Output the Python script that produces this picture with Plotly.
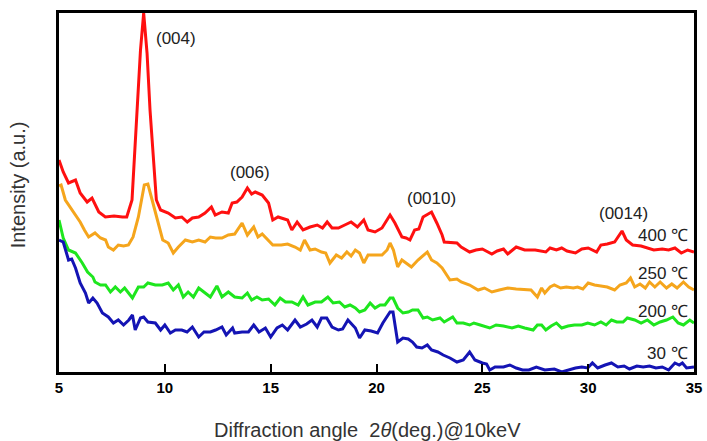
import plotly.graph_objects as go

# ---- data (angle in deg, intensity in arbitrary units) ----
red_x = [5.0,5.2,5.45,5.78,6.0,6.33,6.56,6.88,7.19,7.6,
         8.0,8.2,8.45,8.7,8.85,9.0,9.16,9.3,9.46,9.6,
         9.8,10.16,10.5,10.8,11.06,11.3,11.6,11.9,12.2,12.38,
         12.7,13.0,13.18,13.4,13.65,13.9,14.1,14.27,14.6,14.9,
         15.1,15.35,15.8,16.0,16.25,16.53,16.86,17.2,17.45,17.67,
         17.9,18.2,18.5,18.8,19.1,19.4,19.6,19.93,20.26,20.64,
         20.87,21.2,21.4,21.58,21.8,22.0,22.2,22.6,22.85,23.1,
         23.2,23.55,23.8,24.0,24.4,24.7,25.0,25.45,25.7,26.0,
         26.2,26.6,27.0,27.5,28.0,28.2,28.5,28.75,29.0,29.4,
         29.7,30.0,30.4,30.6,30.9,31.25,31.6,31.8,32.1,32.5,
         32.8,33.1,33.5,33.8,34.1,34.4,34.7,35.0]
red_y = [212,200,189,192,179,170,174,160,155,156,
         155,155,172,265,322,359,319,262,212,172,
         162,159,154,155,150,154,155,159,165,157,
         160,159,169,170,175,184,178,180,177,169,
         152,155,152,142,150,142,145,147,144,150,
         144,144,147,150,145,152,142,140,144,157,
         149,135,134,132,142,143,155,160,149,137,
         130,129,129,125,120,122,123,118,121,123,
         118,125,122,122,120,124,122,124,121,119,
         123,124,120,127,128,130,141,132,127,126,
         124,122,123,122,124,119,122,120]

orange_x = [5.0,5.1,5.3,5.55,5.78,6.0,6.2,6.4,6.7,6.96,
            7.2,7.33,7.57,7.8,8.05,8.28,8.5,8.75,9.03,9.2,
            9.4,9.65,9.9,10.16,10.4,10.64,10.97,11.3,11.6,11.9,
            12.15,12.4,12.7,13.0,13.3,13.65,13.9,14.2,14.4,14.6,
            14.9,15.1,15.5,15.8,16.15,16.4,16.6,16.86,17.1,17.4,
            17.6,17.8,18.1,18.35,18.6,18.8,19.0,19.2,19.4,19.6,
            19.93,20.26,20.5,20.64,20.8,21.0,21.2,21.4,21.65,21.96,
            22.4,22.6,22.85,23.1,23.3,23.47,23.8,24.0,24.4,24.55,
            24.8,25.1,25.45,25.8,26.2,26.6,27.0,27.3,27.6,27.8,
            27.95,28.2,28.4,28.7,28.97,29.3,29.5,29.75,30.0,30.3,
            30.6,30.9,31.25,31.5,31.8,32.0,32.2,32.45,32.7,32.9,
            33.15,33.4,33.7,33.95,34.2,34.35,34.5,34.75,35.0]
orange_y = [186,187,172,164,157,150,142,135,139,134,
            132,125,122,127,126,127,135,155,187,188,
            172,152,132,129,119,125,132,130,132,130,
            135,134,134,137,138,149,137,145,135,138,
            132,127,127,128,125,122,132,122,123,120,
            119,109,117,114,120,116,122,119,109,117,
            117,117,122,129,122,105,112,109,105,112,
            120,112,109,104,97,92,93,90,87,85,
            82,84,80,82,84,83,82,82,75,84,
            79,85,87,84,85,84,85,83,89,87,
            86,85,82,87,89,94,85,88,84,90,
            85,90,84,88,84,87,90,85,82]

green_x = [5.0,5.2,5.45,5.78,6.1,6.35,6.6,6.7,6.96,7.2,
           7.43,7.66,7.9,8.1,8.47,8.75,9.0,9.2,9.55,9.88,
           10.16,10.4,10.64,10.87,11.1,11.35,11.6,11.9,12.15,12.46,
           12.7,13.0,13.3,13.65,13.9,14.1,14.35,14.6,14.9,15.2,
           15.45,15.7,16.0,16.3,16.53,16.76,17.1,17.4,17.7,17.95,
           18.25,18.5,18.75,19.0,19.2,19.45,19.7,19.93,20.17,20.4,
           20.64,20.78,21.0,21.25,21.5,21.7,21.96,22.2,22.4,22.65,
           23.0,23.2,23.6,23.8,24.1,24.4,24.6,24.9,25.35,25.65,
           26.0,26.4,26.7,27.0,27.4,27.6,27.8,28.0,28.25,28.5,
           28.75,29.05,29.35,29.7,29.98,30.3,30.6,30.85,31.1,31.35,
           31.65,31.85,32.2,32.5,32.8,33.1,33.4,33.7,34.0,34.25,
           34.5,34.8,35.0]
green_y = [152,134,122,119,109,100,95,90,87,87,
           80,85,80,84,74,85,85,89,87,87,
           89,82,87,75,80,75,84,79,75,86,
           75,80,75,74,79,72,75,72,73,67,
           74,70,70,67,75,67,70,70,75,69,
           70,65,67,64,60,62,69,64,67,67,
           74,74,64,59,60,62,62,54,55,52,
           54,50,55,49,49,47,49,47,44,47,
           46,44,46,44,42,47,47,42,46,49,
           44,46,47,47,49,47,50,47,52,50,
           50,54,52,49,52,47,50,52,55,49,
           47,52,49]

blue_x = [5.0,5.2,5.45,5.6,5.78,6.0,6.25,6.4,6.6,6.8,
          7.05,7.33,7.57,7.8,8.05,8.3,8.47,8.6,8.85,9.0,
          9.2,9.55,9.8,10.0,10.26,10.5,10.8,11.05,11.3,11.6,
          11.85,12.15,12.4,12.7,12.9,13.2,13.3,13.65,13.95,14.2,
          14.45,14.75,15.0,15.3,15.55,15.8,16.15,16.4,16.7,16.95,
          17.2,17.4,17.65,17.9,18.2,18.4,18.65,19.0,19.2,19.45,
          19.75,20.05,20.3,20.5,20.64,20.78,21.0,21.25,21.5,21.7,
          21.9,22.15,22.4,22.6,22.9,23.15,23.47,23.8,24.1,24.4,
          24.65,25.0,25.2,25.35,25.6,26.0,26.3,26.6,26.9,27.2,
          27.55,27.95,28.4,28.75,29.05,29.4,29.7,29.98,30.2,30.45,
          30.8,31.1,31.4,31.7,31.95,32.3,32.6,32.9,33.2,33.5,
          33.8,34.1,34.3,34.45,34.65,35.0]
blue_y = [132,130,112,113,104,89,79,69,74,69,
          59,55,49,52,47,52,57,42,54,55,
          50,49,42,47,39,42,42,40,45,35,
          40,40,42,45,37,44,39,40,40,47,
          40,44,35,44,47,42,52,45,48,52,
          45,54,54,45,42,43,52,44,34,42,
          41,39,49,55,60,60,30,34,33,30,
          25,24,27,22,20,17,14,10,12,20,
          12,9,8,2,5,5,7,4,2,2,
          5,2,3,0,2,4,5,4,9,4,
          7,9,5,6,3,6,5,6,4,5,
          2,9,7,9,4,5]

series_names = ["400 ℃", "250 ℃", "200 ℃", "30 ℃"]
series_colors = ["#ff1010", "#f5a51c", "#1ee61e", "#1414b4"]
series_x = [red_x, orange_x, green_x, blue_x]
series_y = [red_y, orange_y, green_y, blue_y]

peak_labels = ["(004)", "(006)", "(0010)", "(0014)"]
peak_pos_x = [10.54, 14.03, 22.6, 31.67]
peak_pos_y = [334, 200, 174, 159]

temp_label_x = 34.8
temp_label_y = [137, 99, 61, 19]

x_ticks = [5, 10, 15, 20, 25, 30, 35]

x_title = "Diffraction angle  2<i>θ</i>(deg.)@10keV"
y_title = "Intensity (a.u.)"

for xs, ys in zip(series_x, series_y):
    assert len(xs) == len(ys)

FONT = "Liberation Sans, Arial, sans-serif"

fig = go.Figure()
for name, col, xs, ys in zip(series_names, series_colors, series_x, series_y):
    fig.add_trace(go.Scatter(x=xs, y=ys, mode="lines", name=name,
                             line=dict(color=col, width=3), showlegend=False))

for t, ax, ay in zip(peak_labels, peak_pos_x, peak_pos_y):
    fig.add_annotation(x=ax, y=ay, text=t, showarrow=False,
                       font=dict(family=FONT, size=17, color="#222"))
for t, ay in zip(series_names, temp_label_y):
    fig.add_annotation(x=temp_label_x, y=ay, text=t, showarrow=False, xanchor="right",
                       font=dict(family=FONT, size=17, color="#222"))

# axis titles placed relative to the plot frame
fig.add_annotation(x=0.486, y=0, xref="paper", yref="paper", yanchor="middle",
                   yshift=-58, text=x_title, showarrow=False,
                   font=dict(family=FONT, size=20, color="#333"))
fig.add_annotation(x=0, y=0.52, xref="paper", yref="paper", xanchor="center",
                   xshift=-41, text=y_title, textangle=-90, showarrow=False,
                   font=dict(family=FONT, size=20, color="#333"))

fig.update_layout(
    width=707, height=441,
    margin=dict(l=59, r=13, t=13, b=69),
    plot_bgcolor="white", paper_bgcolor="white",
    font=dict(family=FONT, color="#222"),
)
fig.update_xaxes(range=[5, 35], tickvals=x_ticks,
                 ticktext=["<b>%d</b>" % v for v in x_ticks],
                 ticks="inside", ticklen=8, tickwidth=2, tickcolor="black",
                 showline=True, linecolor="black", linewidth=2.5, mirror=True,
                 showgrid=False, zeroline=False, automargin=False,
                 tickfont=dict(family=FONT, size=15, color="black"))
fig.update_yaxes(range=[0, 359], showticklabels=False, ticks="",
                 showline=True, linecolor="black", linewidth=2.5, mirror=True,
                 showgrid=False, zeroline=False, automargin=False)

fig.write_html("out.html", config={"displayModeBar": False},
               post_script="document.body.style.margin='0';document.body.style.overflow='hidden';")
